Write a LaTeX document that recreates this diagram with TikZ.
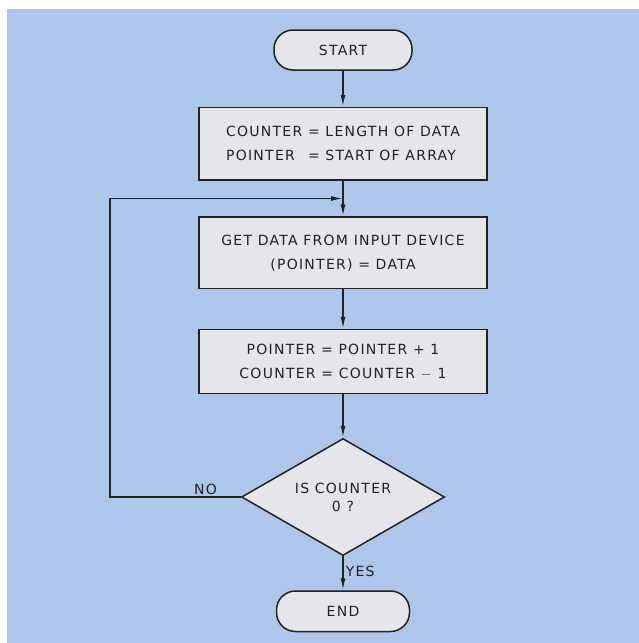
\documentclass[tikz,border=0pt]{standalone}
\usepackage{fontspec}
\setmainfont{DejaVu Sans}[LetterSpace=9]
\usetikzlibrary{arrows.meta,positioning,shapes.geometric,calc}
\definecolor{bgblue}{HTML}{ADC6EA}
\definecolor{boxfill}{HTML}{E4E6EC}
\definecolor{ink}{HTML}{222222}

\begin{document}
\begin{tikzpicture}[x=1pt,y=1pt,
  font=\fontsize{14}{24}\selectfont,
  box/.style={draw=ink,fill=boxfill,text=ink,line width=1.5pt,minimum width=288pt,align=center,inner sep=0pt},
  term/.style={box,rounded corners=19pt,minimum width=138pt,minimum height=40pt},
  decide/.style={box,diamond,aspect=1.735,minimum width=203pt,minimum height=117pt,font=\fontsize{14}{18}\selectfont},
  arr/.style={-{Latex[length=12pt,width=5pt]},line width=1.5pt,draw=ink},
  lbl/.style={text=ink,inner sep=2pt}
]
% page and background
\fill[white] (0,0) rectangle (639,-643);
\fill[bgblue] (7,-9) rectangle (639,-643);
\useasboundingbox (0,0) rectangle (639,-643);

\node[term] (start) at (343,-50) {START};
\node[box,minimum height=72.5pt,below=36pt of start] (init) {%
  \begin{tabular}{@{}l@{ }l@{}}
  COUNTER & = LENGTH OF DATA\\
  POINTER & = START OF ARRAY
  \end{tabular}};
\node[box,minimum height=71.5pt,below=35.5pt of init] (get) {GET DATA FROM INPUT DEVICE\\(POINTER) = DATA};
\node[box,minimum height=64pt,below=39.5pt of get] (update) {POINTER = POINTER + 1\\COUNTER = COUNTER $-$ 1};
\node[decide,below=43.5pt of update] (test) {IS COUNTER\\0 ?};
\node[term,minimum width=133pt,minimum height=40.5pt,below=34pt of test] (end) {END};

\coordinate (join) at ($(init.south)!0.5!(get.north)$);
\coordinate (loopx) at (110,0);

\draw[arr] (start) -- (init);
\draw[arr] (init) -- (get);
\draw[arr] (get) -- (update);
\draw[arr] (update) -- (test);
\draw[arr] (test) -- node[lbl,right,pos=0.45] {YES} (end);
\draw[arr] (test.west) -- node[lbl,above,pos=0.27] {NO} (test.west -| loopx) |- (join);
\end{tikzpicture}
\end{document}
